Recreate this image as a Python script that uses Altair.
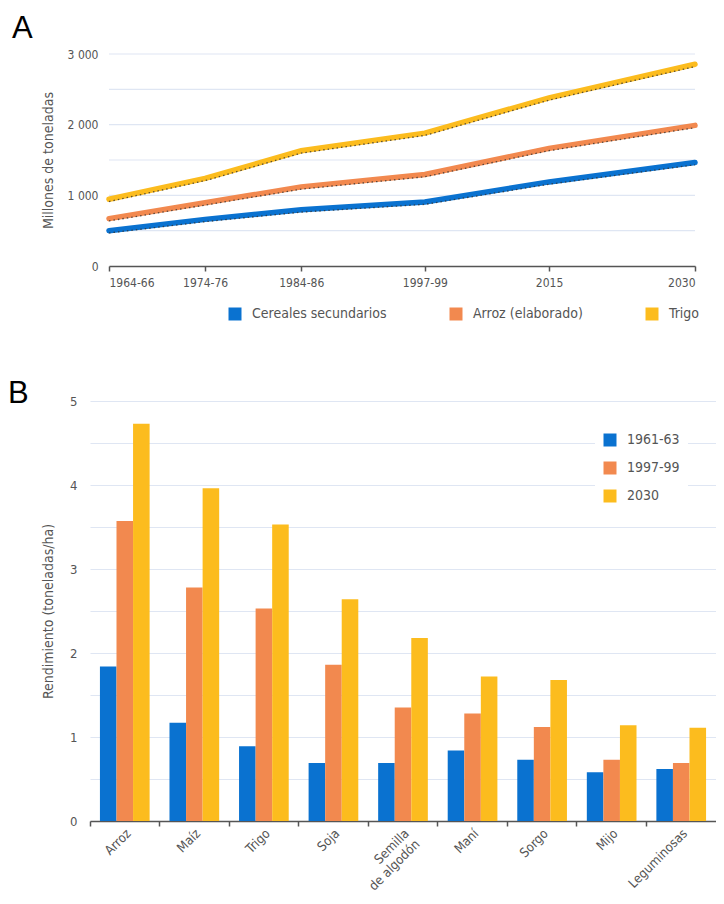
import altair as alt
import pandas as pd

# ---------------- Panel A data ----------------
periods_a = ["1964-66", "1974-76", "1984-86", "1997-99", "2015", "2030"]
period_pos = [0, 16.4, 32.8, 53.9, 75.1, 100]
series_a = ["Cereales secundarios", "Arroz (elaborado)", "Trigo"]
cereales = [500, 660, 795, 905, 1190, 1465]
arroz = [670, 895, 1120, 1295, 1665, 1990]
trigo = [945, 1240, 1630, 1880, 2380, 2855]
grid_a = [500, 1000, 1500, 2000, 2500, 3000]

# ---------------- Panel B data ----------------
crops = ["Arroz", "Maíz", "Trigo", "Soja", "Semilla de algodón",
         "Maní", "Sorgo", "Mijo", "Leguminosas"]
periods_b = ["1961-63", "1997-99", "2030"]
y1961 = [1.84, 1.17, 0.89, 0.69, 0.69, 0.84, 0.73, 0.58, 0.62]
y1997 = [3.57, 2.78, 2.53, 1.86, 1.35, 1.28, 1.12, 0.73, 0.69]
y2030 = [4.73, 3.96, 3.53, 2.64, 2.18, 1.72, 1.68, 1.14, 1.11]

panel_labels = ["A", "B"]

colors = ["#0a72d0", "#f2894f", "#fcbc1e"]
FONT = "Liberation Sans Narrow, DejaVu Sans Condensed, Roboto Condensed, Roboto, sans-serif"
TXT = "#555555"
GRID = "#dfe6f3"

rows_a = []
for name, vals in zip(series_a, [cereales, arroz, trigo]):
    for p, lab, v in zip(period_pos, periods_a, vals):
        rows_a.append({"pos": p, "periodo": lab, "serie": name, "valor": v})
df_a = pd.DataFrame(rows_a)
df_grid = pd.DataFrame({"pos": [period_pos[0]] * len(grid_a),
                        "pos_end": [period_pos[-1]] * len(grid_a),
                        "valor": grid_a})

rows_b = []
for per, vals in zip(periods_b, [y1961, y1997, y2030]):
    for c, v in zip(crops, vals):
        rows_b.append({"cultivo": c, "periodo": per, "valor": v})
df_b = pd.DataFrame(rows_b)

x_label_expr = "".join(f"datum.value == {p} ? '{l}' : " for p, l in zip(period_pos, periods_a)) + "''"
y_label_expr_a = ("datum.value % 1000 == 0 ? (datum.value == 0 ? '0' : "
                  "floor(datum.value / 1000) + ' 000') : ''")

WA = 605
xa = alt.X("pos:Q", scale=alt.Scale(domain=[0, 100], nice=False, zero=False, range=[19, WA]),
           axis=alt.Axis(values=period_pos, labelExpr=x_label_expr, title=None, grid=False,
                         domainColor="#555555", domainWidth=1.5, tickColor="#555555",
                         tickSize=5, tickWidth=1.5, labelPadding=6, labelFontSize=12,
                         labelColor=TXT, labelFont=FONT))
ya = alt.Y("valor:Q", scale=alt.Scale(domain=[0, 3000], nice=False),
           axis=alt.Axis(values=list(range(0, 3001, 500)), labelExpr=y_label_expr_a,
                         title="Millones de toneladas", titleFont=FONT, titleFontSize=14,
                         titleFontWeight="normal", titleColor=TXT, titlePadding=12,
                         labelFont=FONT, labelFontSize=12, labelColor=TXT, labelPadding=-8,
                         ticks=False, domain=False, grid=False))

gridlines = alt.Chart(df_grid).mark_rule(color=GRID, strokeWidth=1.2).encode(
    x=xa, x2="pos_end:Q", y=ya)

lines = alt.Chart(df_a).mark_line(strokeWidth=5.5, strokeCap="round").encode(
    x=xa, y=ya,
    color=alt.Color("serie:N", sort=series_a,
                    scale=alt.Scale(domain=series_a, range=colors),
                    legend=alt.Legend(orient="none", direction="horizontal", legendX=138,
                                      legendY=253, title=None, symbolType="square",
                                      symbolSize=36, symbolStrokeWidth=7, labelFont=FONT,
                                      labelFontSize=14, labelColor=TXT, columnPadding=52,
                                      labelOffset=10, padding=0)),
)
dots = alt.Chart(df_a).mark_line(strokeWidth=1.3, strokeDash=[1.5, 3], color="#333333",
                                 yOffset=2.3, opacity=0.8).encode(
    x=xa, y=ya, detail="serie:N")

label_a = alt.Chart(pd.DataFrame({"t": [panel_labels[0]]})).mark_text(
    align="left", baseline="top", fontSize=31, font="Liberation Sans", color="black"
).encode(text="t:N", x=alt.value(-78), y=alt.value(-40))

chart_a = alt.layer(gridlines, lines, dots, label_a).properties(width=WA, height=212)

y_label_expr_b = "datum.value % 1 == 0 ? format(datum.value, 'd') : ''"
label_expr_b = "datum.label == 'Semilla de algodón' ? ['Semilla', 'de algodón'] : datum.label"

bars = alt.Chart(df_b).mark_bar(xOffset=3).encode(
    x=alt.X("cultivo:N", sort=crops, scale=alt.Scale(paddingInner=0, paddingOuter=0),
            axis=alt.Axis(title=None, bandPosition=0, labelOffset=4, labelAngle=-45,
                          labelAlign="right", labelBaseline="middle", labelExpr=label_expr_b,
                          labelFont=FONT, labelFontSize=13, labelColor=TXT, labelPadding=5,
                          tickSize=5, tickWidth=1.5, tickColor="#555555",
                          domainColor="#555555", domainWidth=1.5, grid=False)),
    xOffset=alt.XOffset("periodo:N", sort=periods_b,
                        scale=alt.Scale(paddingInner=0, paddingOuter=0.6)),
    y=alt.Y("valor:Q", scale=alt.Scale(domain=[0, 5], nice=False),
            axis=alt.Axis(values=[i * 0.5 for i in range(11)], labelExpr=y_label_expr_b,
                          title="Rendimiento (toneladas/ha)", titleFont=FONT,
                          titleFontSize=14, titleFontWeight="normal", titleColor=TXT,
                          titlePadding=14, labelFont=FONT, labelFontSize=13,
                          labelColor=TXT, labelPadding=13, ticks=False, domain=False,
                          gridColor=GRID, gridWidth=1.2)),
    color=alt.Color("periodo:N", sort=periods_b,
                    scale=alt.Scale(domain=periods_b, range=colors),
                    legend=alt.Legend(orient="none", legendX=505, legendY=24, title=None,
                                      symbolType="square", symbolSize=169,
                                      symbolStrokeWidth=0, labelFont=FONT, labelFontSize=14,
                                      labelColor=TXT, rowPadding=14, labelOffset=10,
                                      padding=8, fillColor="white")),
)

label_b = alt.Chart(pd.DataFrame({"t": [panel_labels[1]]})).mark_text(
    align="left", baseline="top", fontSize=31, font="Liberation Sans", color="black"
).encode(text="t:N", x=alt.value(-82), y=alt.value(-22))

chart_b = alt.layer(bars, label_b).properties(width=626, height=420)

chart = alt.vconcat(chart_a, chart_b, spacing=47).resolve_scale(
    color="independent"
).properties(
    padding={"left": 0, "top": 5, "right": 0, "bottom": 0}
).configure_view(stroke=None)

chart.save("out.html", embed_options={"renderer": "svg", "actions": False})
